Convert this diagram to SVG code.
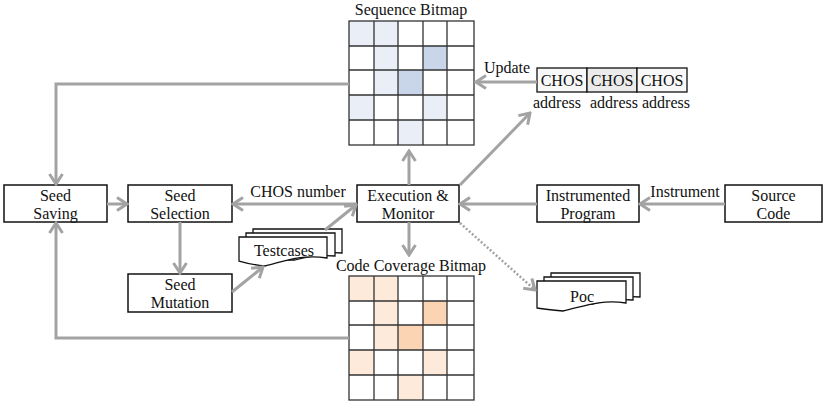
<svg xmlns="http://www.w3.org/2000/svg" width="826" height="403" viewBox="0 0 826 403">
  <style>
    text { font-family: "Liberation Serif", "Times New Roman", serif; font-size: 16px; fill: #111; }
    .c { text-anchor: middle; }
    .box { fill: #fff; stroke: #111; stroke-width: 1.5; }
    .sheet { fill: #fff; stroke: #111; stroke-width: 1.3; }
    .edge { fill: none; stroke: #a3a3a3; stroke-width: 3; }
    .dot { fill: none; stroke: #a3a3a3; stroke-width: 2.5; stroke-dasharray: 2 2; }
    .grid { fill: none; stroke: #333; stroke-width: 1.3; }
    .b1 { fill: #e9eef7; } .b2 { fill: #c9d6ea; }
    .o1 { fill: #fdeadb; } .o2 { fill: #fbd4b4; }
  </style>
  <defs>
    <marker id="arrow" markerUnits="userSpaceOnUse" markerWidth="14" markerHeight="16" viewBox="0 0 14 16" refX="12" refY="8" orient="auto">
      <path d="M2,1.5 L12,8 L2,14.5" fill="none" stroke="#a3a3a3" stroke-width="3"/>
    </marker>
    <!-- 5x5 grid lines shared by both bitmaps -->
    <g id="gridlines">
      <rect class="grid" x="0" y="0" width="125" height="124"/>
      <path class="grid" d="M25,0 V124 M49,0 V124 M74,0 V124 M98,0 V124 M0,25 H125 M0,49 H125 M0,74 H125 M0,99 H125"/>
    </g>
  </defs>

  <!-- Sequence bitmap -->
  <g id="sequence-bitmap">
    <text class="c" x="411" y="15">Sequence Bitmap</text>
    <g transform="translate(349,21)">
      <rect class="b1" x="0" y="0" width="25" height="25"/>
      <rect class="b1" x="25" y="0" width="24" height="25"/>
      <rect class="b1" x="25" y="25" width="24" height="24"/>
      <rect class="b2" x="74" y="25" width="24" height="24"/>
      <rect class="b1" x="25" y="49" width="24" height="25"/>
      <rect class="b2" x="49" y="49" width="25" height="25"/>
      <rect class="b1" x="0" y="74" width="25" height="25"/>
      <rect class="b1" x="74" y="74" width="24" height="25"/>
      <rect class="b1" x="49" y="99" width="25" height="25"/>
      <use href="#gridlines"/>
    </g>
  </g>

  <!-- Code coverage bitmap -->
  <g id="coverage-bitmap">
    <text class="c" x="411" y="271">Code Coverage Bitmap</text>
    <g transform="translate(349,276)">
      <rect class="o1" x="0" y="0" width="25" height="25"/>
      <rect class="o1" x="25" y="0" width="24" height="25"/>
      <rect class="o1" x="25" y="25" width="24" height="24"/>
      <rect class="o2" x="74" y="25" width="24" height="24"/>
      <rect class="o1" x="25" y="49" width="24" height="25"/>
      <rect class="o2" x="49" y="49" width="25" height="25"/>
      <rect class="o1" x="0" y="74" width="25" height="25"/>
      <rect class="o1" x="74" y="74" width="24" height="25"/>
      <rect class="o1" x="49" y="99" width="25" height="25"/>
      <use href="#gridlines"/>
    </g>
  </g>

  <!-- CHOS address table -->
  <g id="chos-table">
    <rect x="537" y="68" width="50" height="24" fill="#f8f8f8" stroke="#111" stroke-width="1.3"/>
    <rect x="587" y="68" width="50" height="24" fill="#ebebeb" stroke="#111" stroke-width="1.3"/>
    <rect x="637" y="68" width="50" height="24" fill="#f8f8f8" stroke="#111" stroke-width="1.3"/>
    <text class="c" x="562" y="86">CHOS</text>
    <text class="c" x="612" y="86">CHOS</text>
    <text class="c" x="662" y="86">CHOS</text>
    <text class="c" x="557" y="108">address</text>
    <text class="c" x="614" y="108">address</text>
    <text class="c" x="666" y="108">address</text>
  </g>

  <!-- Process nodes -->
  <g id="seed-saving">
    <rect class="box" x="4" y="185" width="103" height="37"/>
    <text class="c" x="55.5" y="201">Seed</text>
    <text class="c" x="55.5" y="219">Saving</text>
  </g>
  <g id="seed-selection">
    <rect class="box" x="128" y="185" width="104" height="37"/>
    <text class="c" x="180" y="201">Seed</text>
    <text class="c" x="180" y="219">Selection</text>
  </g>
  <g id="seed-mutation">
    <rect class="box" x="128" y="274" width="104" height="38"/>
    <text class="c" x="180" y="290">Seed</text>
    <text class="c" x="180" y="308">Mutation</text>
  </g>
  <g id="execution-monitor">
    <rect class="box" x="357" y="185" width="102" height="37"/>
    <text class="c" x="408" y="201">Execution &amp;</text>
    <text class="c" x="408" y="219">Monitor</text>
  </g>
  <g id="instrumented-program">
    <rect class="box" x="537" y="185" width="102" height="37"/>
    <text class="c" x="588" y="201">Instrumented</text>
    <text class="c" x="588" y="219">Program</text>
  </g>
  <g id="source-code">
    <rect class="box" x="725" y="185" width="97" height="37"/>
    <text class="c" x="773.5" y="201">Source</text>
    <text class="c" x="773.5" y="219">Code</text>
  </g>

  <!-- Document stacks -->
  <g id="testcases">
    <path class="sheet" d="M253,229 H342 V253 C330,252 320,253 310,256 H253 Z"/>
    <path class="sheet" d="M246,233 H335 V256 C320,255 305,257 295,260 H246 Z"/>
    <path class="sheet" d="M239,237 H327 V258 C300,254 282,262 265,266 C255,265 246,263 239,261 Z"/>
    <text class="c" x="284" y="256">Testcases</text>
  </g>
  <g id="poc">
    <path class="sheet" d="M551,273 H640 V297 C628,296 618,297 608,300 H551 Z"/>
    <path class="sheet" d="M544,277 H633 V300 C618,299 603,301 593,304 H544 Z"/>
    <path class="sheet" d="M537,281 H626 V303 C599,299 582,307 563,311 C553,310 544,309 537,308 Z"/>
    <text class="c" x="582" y="302">Poc</text>
  </g>

  <!-- Connectors -->
  <g id="connectors">
    <polyline class="edge" points="349,84 56,84 56,184" marker-end="url(#arrow)"/>
    <polyline class="edge" points="349,338 56,338 56,223" marker-end="url(#arrow)"/>
    <line class="edge" x1="107" y1="204" x2="127" y2="204" marker-end="url(#arrow)"/>
    <line class="edge" x1="357" y1="204" x2="233" y2="204" marker-end="url(#arrow)"/>
    <line class="edge" x1="180" y1="222" x2="180" y2="273" marker-end="url(#arrow)"/>
    <line class="edge" x1="232" y1="292" x2="263" y2="267" marker-end="url(#arrow)"/>
    <line class="edge" x1="325" y1="230" x2="356" y2="205" marker-end="url(#arrow)"/>
    <line class="edge" x1="409" y1="185" x2="409" y2="151" marker-end="url(#arrow)"/>
    <line class="edge" x1="409" y1="222" x2="409" y2="255" marker-end="url(#arrow)"/>
    <line class="edge" x1="460" y1="185" x2="530" y2="113" marker-end="url(#arrow)"/>
    <line class="edge" x1="537" y1="204" x2="460" y2="204" marker-end="url(#arrow)"/>
    <line class="edge" x1="725" y1="204" x2="640" y2="204" marker-end="url(#arrow)"/>
    <line class="edge" x1="537" y1="82" x2="476" y2="82" marker-end="url(#arrow)"/>
    <line class="dot" x1="460" y1="223" x2="535" y2="290" marker-end="url(#arrow)"/>
    <text class="c" x="298" y="197">CHOS number</text>
    <text class="c" x="685" y="197">Instrument</text>
    <text class="c" x="507" y="73">Update</text>
  </g>
</svg>
